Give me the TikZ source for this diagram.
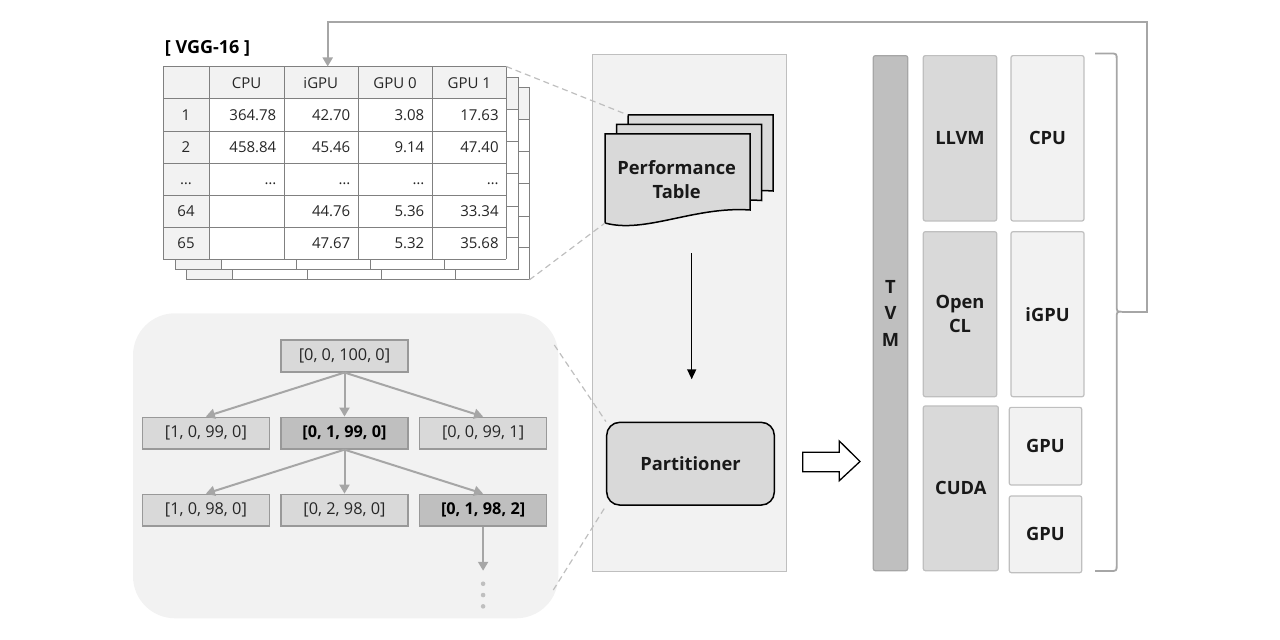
\documentclass[tikz,border=0pt]{standalone}
\usepackage{fontspec}
\setmainfont{Open Sans}
\usetikzlibrary{arrows.meta,positioning,calc}

\definecolor{panelfill}{HTML}{F2F2F2}
\definecolor{boxfill}{HTML}{D9D9D9}
\definecolor{darkfill}{HTML}{BFBFBF}
\definecolor{linegray}{HTML}{A6A6A6}
\definecolor{gridgray}{HTML}{808080}
\definecolor{textgray}{HTML}{262626}

\tikzset{
  tblline/.style={draw=gridgray, line width=0.9bp},
  cell/.style={font=\fontsize{15bp}{18bp}\selectfont, text=textgray, inner sep=0},
  tnode/.style={draw=gridgray!80, fill=boxfill, line width=1.6bp, minimum width=127bp,
    minimum height=31.5bp, inner sep=0, font=\fontsize{16.3bp}{19bp}\selectfont, text=textgray},
  tbold/.style={tnode, fill=darkfill, font=\fontsize{16.3bp}{19bp}\selectfont\bfseries, text=black},
  tarrow/.style={draw=linegray, line width=2bp, -{Triangle[length=9bp,width=10bp]}},
  zoomline/.style={draw=darkfill, line width=1.2bp, dash pattern=on 6bp off 4bp},
  boldtxt/.style={font=\fontsize{18.3bp}{24bp}\selectfont\bfseries, align=center, inner sep=0, text=black!90},
  compbox/.style={boldtxt, draw=darkfill, fill=boxfill, line width=1.2bp, rounded corners=2bp},
  devbox/.style={boldtxt, draw=darkfill, fill=panelfill, line width=1.2bp, rounded corners=2bp},
  docpage/.style={draw=black, fill=boxfill, line width=1.5bp},
}
\newcommand{\perfpage}[1]{%
  \draw[docpage, shift={(#1)}] (0,0) -- (145,0) -- (145,76)
    .. controls (90,72) and (40,100) .. (0,89) -- cycle;}

\begin{document}
\begin{tikzpicture}[x=1bp,y=-1bp]
  \useasboundingbox (0,0) rectangle (1280,640);

  % tree panel
  \fill[panelfill, rounded corners=42bp] (133,313.3) rectangle (558.3,618.3);

  % three stacked tables
  \foreach \dx/\dy in {23.5/20.5, 12/10.5, 0/0} {
    \begin{scope}[shift={(\dx,\dy)}]
      \fill[white] (163,66.5) rectangle (506,259.3);
      \fill[panelfill] (163,66.5) rectangle (506,98.7);
      \fill[panelfill] (163,98.7) rectangle (209,259.3);
      \foreach \yy in {66.5,98.7,131,163.2,195.5,227.3,259.3}
        \draw[tblline] (163,\yy) -- (506,\yy);
      \foreach \xx in {163,209,284,358,432,506}
        \draw[tblline] (\xx,66.5) -- (\xx,259.3);
    \end{scope}
  }
  \node[font=\fontsize{18bp}{21bp}\selectfont\bfseries, inner sep=0] (vgg) at (207.5,48) {[ VGG-16 ]};
  \foreach \hd [count=\j] in {CPU, iGPU, GPU 0, GPU 1}
    \node[cell, anchor=base] (hd-\j) at ({246.5+74.3*(\j-1)},88.2) {\hd};
  \foreach \lab/\a/\b/\c/\d [count=\i] in {1/364.78/42.70/3.08/17.63, 2/458.84/45.46/9.14/47.40,
      …/…/…/…/…, 64//44.76/5.36/33.34, 65//47.67/5.32/35.68} {
    \node[cell, anchor=base] (row-\i) at (186,{88.2+32.13*\i}) {\lab};
    \node[cell, anchor=base east] (c-\i-1) at (276.5,{88.2+32.13*\i}) {\a};
    \node[cell, anchor=base east] (c-\i-2) at (350.5,{88.2+32.13*\i}) {\b};
    \node[cell, anchor=base east] (c-\i-3) at (424.5,{88.2+32.13*\i}) {\c};
    \node[cell, anchor=base east] (c-\i-4) at (498.8,{88.2+32.13*\i}) {\d};
  }
  \coordinate (tbltop) at (327.7,66.5);
  \coordinate (tblne) at (506.3,66.5);
  \coordinate (tblse) at (529.5,279.8);

  % search tree
  \node[tnode] (root) at (344.5,356) {[0, 0, 100, 0]};
  \node[tbold, below=44bp of root] (n1b) {[0, 1, 99, 0]};
  \node[tnode, left=10bp of n1b] (n1a) {[1, 0, 99, 0]};
  \node[tnode, right=10bp of n1b] (n1c) {[0, 0, 99, 1]};
  \node[tnode, below=44bp of n1b] (n2b) {[0, 2, 98, 0]};
  \node[tnode, left=10bp of n2b] (n2a) {[1, 0, 98, 0]};
  \node[tbold, right=10bp of n2b] (n2c) {[0, 1, 98, 2]};
  \foreach \child in {n1a,n1b,n1c}
    \draw[tarrow] (root.south) -- (\child.north);
  \foreach \child in {n2a,n2b,n2c}
    \draw[tarrow] (n1b.south) -- (\child.north);
  \draw[tarrow] (n2c.south) -- ++(0,44) coordinate (more);
  \foreach \k in {0,1,2}
    \fill[darkfill] ($(more)+(0,13+11.3*\k)$) circle (2.3bp);
  \coordinate (treetop) at (554.3,345);
  \coordinate (treebot) at (553.3,590);

  % middle panel
  \draw[draw=darkfill, fill=panelfill, line width=1bp] (592.7,55) rectangle (786.7,571.7);
  \perfpage{628,115}
  \perfpage{616.5,124.5}
  \perfpage{605,134}
  \coordinate (docback) at (628,115);
  \coordinate (docfoot) at (605,223);
  \node[boldtxt] (perf) at (676.7,179.7) {Performance\\Table};
  \node[compbox, draw=black, line width=1.5bp, rounded corners=13bp, minimum width=167.6bp,
    minimum height=82.7bp] (part) at (690.5,463.7) {Partitioner};
  \coordinate (flowtop) at (691.7,253.3);
  \draw[line width=1.5bp, -{Triangle[length=10bp,width=9bp]}] (flowtop) -- ++(0,126);

  % zoom lines
  \draw[zoomline] (tblne) -- (docback);
  \draw[zoomline] (tblse) -- (docfoot);
  \draw[zoomline] (treetop) -- (part.north west);
  \draw[zoomline] (treebot) -- (part.south west);

  % hollow arrow
  \draw[line width=1.3bp, fill=white] (802.7,452.3) -- ++(36.6,0) -- ++(0,-11.3) -- (860,461.5)
    -- (839.3,480.7) -- ++(0,-9) -- (802.7,471.7) -- cycle;

  % TVM stack
  \node[boldtxt, font=\fontsize{18.3bp}{26.5bp}\selectfont\bfseries, draw=linegray, fill=darkfill,
    line width=1.2bp, rounded corners=2bp, minimum width=34.4bp, minimum height=515bp] (tvm)
    at (890.5,313.2) {T\\V\\M};
  \node[compbox, minimum width=73.4bp, minimum height=165.3bp] (llvm) at (960,138.3) {LLVM};
  \node[compbox, minimum width=73.4bp, minimum height=165bp] (ocl) at (960,314.2) {Open\\CL};
  \node[compbox, minimum width=75bp, minimum height=164.7bp] (cuda) at (960.8,488.3) {CUDA};
  \node[devbox, minimum width=73bp, minimum height=165.3bp] (cpu) at (1047.5,138.3) {CPU};
  \node[devbox, minimum width=73bp, minimum height=165bp] (igpu) at (1047.5,314.2) {iGPU};
  \node[devbox, minimum width=72.4bp, minimum height=77.7bp] (gpua) at (1045.5,446.2) {GPU};
  \node[devbox, minimum width=72.4bp, minimum height=76.7bp] (gpub) at (1045.5,534.3) {GPU};

  % brace and feedback line
  \draw[draw=linegray, line width=1.8bp] (1095,53.5) -- (1110,53.5) .. controls (1116.7,53.5) .. (1116.7,60)
    -- (1116.7,305) .. controls (1116.7,311.7) .. (1122,311.7) .. controls (1116.7,311.7) .. (1116.7,318)
    -- (1116.7,564.5) .. controls (1116.7,571) .. (1110,571) -- (1095,571);
  \coordinate (brtip) at (1122,311.7);
  \draw[draw=linegray, line width=2bp, -{Triangle[length=9bp,width=10bp]}]
    (brtip) -- (1146.7,311.7) -- (1146.7,22.5) -- (327.7,22.5) -- (tbltop);
\end{tikzpicture}
\end{document}
